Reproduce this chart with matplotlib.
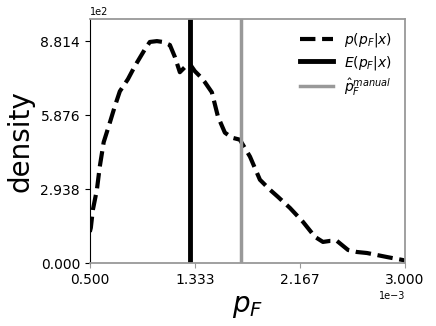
import matplotlib
matplotlib.use("Agg")
import matplotlib.pyplot as plt
import matplotlib.ticker as ticker
import numpy as np

# posterior density of p_F
p_grid = [0.500, 0.508, 0.524, 0.556, 0.579, 0.610, 0.659, 0.698, 0.738, 0.802,
          0.857, 0.937, 0.976, 1.032, 1.079, 1.135, 1.175, 1.214, 1.254, 1.294,
          1.333, 1.373, 1.413, 1.468, 1.516, 1.571, 1.627, 1.690, 1.770, 1.849,
          1.929, 1.992, 2.087, 2.190, 2.286, 2.349, 2.405, 2.460, 2.548, 2.619,
          2.698, 2.857, 2.984, 3.000]
density = [124, 140, 211, 291, 383, 480, 558, 622, 682, 730,
           782, 849, 878, 881.4, 878, 866, 818, 758, 778, 790,
           762, 742, 718, 678, 582, 518, 498, 490, 423, 331,
           291, 263, 219, 164, 104, 84, 88, 88, 52, 44,
           40, 24, 12, 8]
p_grid = np.array(p_grid) * 1e-3
density = np.array(density)

p_mean = 1.294e-3     # E(p_F|x)
p_manual = 1.698e-3   # manual estimate

x_min, x_max = 0.5e-3, 3.0e-3
d_max = density.max()


class FixedFmt(ticker.ScalarFormatter):
    def _set_format(self):
        self.format = "%1.3f"


fig = plt.figure(figsize=(4.36, 3.26), dpi=100)
ax = fig.add_axes([0.206, 0.193, 0.723, 0.749])

ax.plot(p_grid, density, color="black", lw=3, ls="--", label=r"$p(p_F|x)$")
ax.axvline(p_mean, color="black", lw=3.5, label=r"$E(p_F|x)$")
ax.axvline(p_manual, color="#999999", lw=2.5, label=r"$\hat{p}_F^{manual}$")

ax.set_xlim(x_min, x_max)
ax.set_ylim(0, d_max * 1.1)
ax.set_xticks(np.linspace(x_min, x_max, 4))
ax.set_yticks(np.linspace(0, d_max, 4))

for axis in (ax.xaxis, ax.yaxis):
    f = FixedFmt()
    f.set_powerlimits((0, 0))
    axis.set_major_formatter(f)

ax.tick_params(labelsize=10)
ax.xaxis.get_offset_text().set_fontsize(7)
ax.yaxis.get_offset_text().set_fontsize(7)

ax.set_xlabel(r"$p_F$", fontsize=20)
ax.set_ylabel("density", fontsize=20)

for side in ["top", "right", "bottom"]:
    ax.spines[side].set_color("#999999")
    ax.spines[side].set_linewidth(1.3)
ax.spines["left"].set_color("black")
ax.tick_params(axis="x", color="#999999")

ax.legend(loc="upper right", frameon=False, fontsize=10, handlelength=2.4,
          labelspacing=0.3)

fig.savefig("out.png", dpi=100, facecolor="white")
